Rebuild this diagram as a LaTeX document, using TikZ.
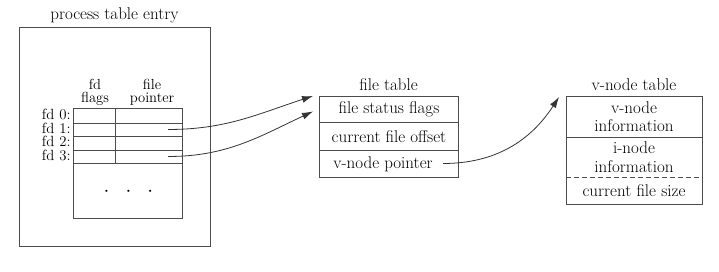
\documentclass[tikz,border=0pt]{standalone}
\usepackage{fontspec}
\usetikzlibrary{arrows.meta}
\begin{document}
\begin{tikzpicture}[x=1pt,y=-1pt,
  font=\fontsize{17}{18.5}\selectfont,
  line width=0.9pt,
  lc/.style={draw=black!70},
  cell/.style={lc, inner sep=0pt, anchor=north west},
  lbl/.style={inner sep=0pt, anchor=east, text height=9.5pt, text depth=1.5pt, font=\fontsize{14.8}{14}\selectfont},
  hdr/.style={inner sep=0pt, text height=8.5pt, text depth=0pt, font=\fontsize{14.6}{10}\selectfont},
  ptr/.style={black!80, -{Latex[length=11pt,width=7pt]}, line width=0.8pt}
]
\useasboundingbox (0,0) rectangle (719,272);

% process table entry
\node (proctitle) at (114.5,15) {process table entry};
\node (proc) [cell, minimum width=191pt, minimum height=219pt] at (19,27) {};

% inner table
\node (tbl) [cell, minimum width=109pt, minimum height=110pt] at (73,108) {};
\foreach \y in {123,136,150,163} \draw[lc] (73,\y) -- (182,\y);
\draw[lc] (115,108) -- (115,163);
\node (hfd1) [hdr, anchor=base] at (95,89.5) {fd};
\node (hfd2) [hdr, anchor=base] at (95,103) {flags};
\node (hfp1) [hdr, anchor=base] at (152,89.5) {file};
\node (hfp2) [hdr, anchor=base] at (152,103) {pointer};
\node (fd0) [lbl] at (71,115.5) {fd 0:};
\node (fd1) [lbl] at (71,129.5) {fd 1:};
\node (fd2) [lbl] at (71,143) {fd 2:};
\node (fd3) [lbl] at (71,156.5) {fd 3:};
\node (dots) [font=\fontsize{20}{20}\selectfont] at (128.5,192) {$\cdot\;\;\cdot\;\;\cdot$};
\coordinate (p1) at (168,129.5);
\coordinate (p3) at (168,156.5);

% file table
\node (fttitle) at (388.5,85) {file table};
\node (fstat) [cell, minimum width=139pt, minimum height=26pt] at (319,96) {};
\node at (fstat.center) {file status flags};
\node (foff) [cell, minimum width=139pt, minimum height=28pt] at (319,122) {};
\node at (foff.center) {current file offset};
\node (vptr) [cell, minimum width=139pt, minimum height=27pt] at (319,150) {};
\node (vptrtxt) at ([xshift=-6pt]vptr.center) {v-node pointer};
\coordinate (p5) at (443,163.5);

% v-node table
\node (vttitle) at (634,85) {v-node table};
\node (vtbl) [cell, minimum width=136pt, minimum height=108pt] at (566,96) {};
\draw[lc] (566,137) -- (702,137);
\draw[lc, dashed, dash pattern=on 5pt off 3pt] (566,177) -- (702,177);
\node (vinfo) [align=center, inner sep=0pt] at (634,116.5) {v-node\\information};
\node (iinfo) [align=center, inner sep=0pt] at (634,157) {i-node\\information};
\node (fsize) at (634,190.5) {current file size};

% pointers
\draw[ptr] (p1) to[out=0,in=198] ([xshift=-6pt]fstat.north west);
\draw[ptr] (p3) to[out=0,in=205] ([xshift=-6pt,yshift=-2pt]fstat.west);
\draw[ptr] (p5) to[out=0,in=237] ([xshift=-7pt,yshift=-1pt]vtbl.north west);
\end{tikzpicture}
\end{document}
